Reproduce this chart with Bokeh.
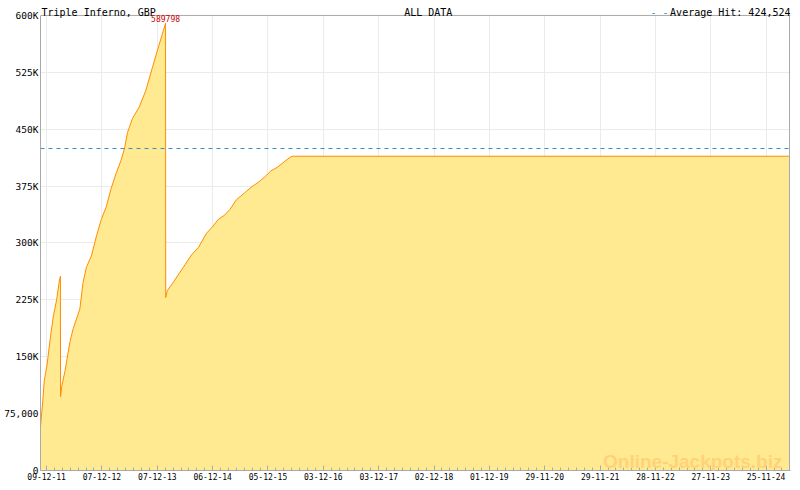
import pandas as pd
from bokeh.plotting import figure
from bokeh.models import (ColumnDataSource, Range1d, FixedTicker, DatetimeTickFormatter, Span,
                          Label, BoxAnnotation)
from bokeh.embed import file_html
from bokeh.resources import INLINE

# ---- data ----
dates = [
    "2011-10-30", "2011-11-13", "2011-11-24", "2011-12-12", "2012-01-02", "2012-01-23",
    "2012-02-14", "2012-03-02", "2012-03-09", "2012-03-10", "2012-03-18", "2012-04-08",
    "2012-05-11", "2012-06-01", "2012-07-15", "2012-08-05", "2012-08-27", "2012-09-29",
    "2012-11-01", "2012-12-03", "2013-01-05", "2013-02-06", "2013-03-11", "2013-04-12",
    "2013-05-04", "2013-05-25", "2013-06-05", "2013-06-26", "2013-08-09", "2013-09-22",
    "2013-11-04", "2013-12-06", "2014-01-08", "2014-01-30", "2014-01-31", "2014-02-10",
    "2014-03-14", "2014-04-27", "2014-06-09", "2014-07-22", "2014-09-03", "2014-10-27",
    "2014-11-29", "2015-01-12", "2015-02-24", "2015-03-29", "2015-05-11", "2015-07-04",
    "2015-08-16", "2015-09-29", "2015-11-11", "2015-12-24", "2016-02-06", "2016-03-20",
    "2016-05-02", "2016-05-20", "2025-04-28",
]
values = [
    58000, 89000, 119000, 139000, 174000, 204000,
    226000, 250000, 256000, 97600, 111000, 131000,
    170000, 187000, 213000, 248000, 268000, 283000,
    309000, 331000, 348000, 372000, 392000, 409000,
    424000, 446000, 452000, 464000, 479000, 501000,
    531000, 553000, 575000, 589798, 228000, 237000,
    246000, 259000, 272000, 285000, 294000, 313000,
    320000, 331000, 337000, 344000, 357000, 366000,
    373500, 379500, 386500, 395000, 400000, 407000,
    413500, 414400, 414400,
]
tick_dates = ["09-12-11", "07-12-12", "07-12-13", "06-12-14", "05-12-15", "03-12-16",
              "03-12-17", "02-12-18", "01-12-19", "29-11-20", "29-11-21", "28-11-22",
              "27-11-23", "25-11-24"]
y_ticks = [0, 75000, 150000, 225000, 300000, 375000, 450000, 525000, 600000]
y_tick_labels = ["0", "75,000", "150K", "225K", "300K", "375K", "450K", "525K", "600K"]
average_hit = 424524
peak_value = 589798
peak_date = "2014-01-30"
title_left = "Triple Inferno, GBP"
title_center = "ALL DATA"
legend_text = "Average Hit: 424,524"
watermark = "Online-Jackpots.biz"

# ---- layout constants (styling) ----
W, H = 792, 482
BORDER_L, BORDER_R, BORDER_T, BORDER_B = 40, 2, 0, 11
FRAME_W = W - BORDER_L - BORDER_R
FRAME_H = H - BORDER_T - BORDER_B
PLOT_TOP_PX = 15           # pixel strip above the plotting box for the header texts
Y_MAX = y_ticks[-1]
Y_TOP = Y_MAX * FRAME_H / (FRAME_H - PLOT_TOP_PX)

MONO = "DejaVu Sans Mono"
GREY = "#aaaaaa"

# ---- build ----
x = pd.to_datetime(dates)
src = ColumnDataSource(dict(x=x, y=values))

def ms(ts):
    return pd.Timestamp(ts).value / 1e6

x0, x1 = ms(x[0]), ms(x[-1])
x_end = x1 + (x1 - x0) / FRAME_W          # one pixel of room for the right border
major = [ms(t) for t in pd.to_datetime(tick_dates, format="%d-%m-%y")]
minor = []
for a, b in zip(major[:-1], major[1:]):
    st = (b - a) / 7
    minor += [a + i * st for i in range(1, 7)]
st = (major[1] - major[0]) / 7
minor = [major[0] - st] + minor + [major[-1] + i * st for i in range(1, 7)]

p = figure(width=W, height=H, x_axis_type="datetime", output_backend="svg",
           toolbar_location=None, x_range=Range1d(x0, x_end), y_range=Range1d(0, Y_TOP),
           min_border_left=BORDER_L, min_border_right=BORDER_R,
           min_border_top=BORDER_T, min_border_bottom=BORDER_B,
           background_fill_color="white", border_fill_color="white",
           outline_line_color=None)

p.varea(x="x", y1=0, y2="y", source=src, fill_color="#ffea91")
p.line("x", "y", source=src, line_color="#ff8c00", line_width=1)

p.xgrid.grid_line_color = "#ebebeb"
p.ygrid.grid_line_color = "#ebebeb"

xa = p.xaxis[0]
xa.ticker = FixedTicker(ticks=major, minor_ticks=minor)
fmt = "%d-%m-%y"
xa.formatter = DatetimeTickFormatter(microseconds=fmt, milliseconds=fmt, seconds=fmt, minsec=fmt,
                                     minutes=fmt, hourmin=fmt, hours=fmt, days=fmt,
                                     months=fmt, years=fmt)
xa.major_tick_in = 5
xa.major_tick_out = 0
xa.minor_tick_in = 3
xa.minor_tick_out = 0
xa.major_tick_line_color = GREY
xa.minor_tick_line_color = GREY
xa.axis_line_color = GREY
xa.major_label_text_font = MONO
xa.major_label_text_font_size = "8px"
xa.major_label_standoff = 2
xa.major_label_text_color = "black"

ya = p.yaxis[0]
ya.ticker = FixedTicker(ticks=y_ticks)
ya.bounds = (0, Y_MAX)
ya.major_label_overrides = {t: l for t, l in zip(y_ticks, y_tick_labels)}
ya.major_tick_in = 0
ya.major_tick_out = 0
ya.minor_tick_in = 0
ya.minor_tick_out = 0
ya.axis_line_color = GREY
ya.major_label_text_font = MONO
ya.major_label_text_font_size = "9.5px"
ya.major_label_standoff = 2
ya.major_label_text_color = "black"

# right border (covered above the box by the header strip)
p.add_layout(Span(location=x1, dimension="height", line_color=GREY, line_width=1))
# blank header strip above the plotting box
p.add_layout(BoxAnnotation(bottom=Y_MAX, fill_color="white", fill_alpha=1.0,
                           line_color=None))
p.add_layout(Span(location=Y_MAX, dimension="width", line_color=GREY, line_width=1))

p.add_layout(Span(location=average_hit, dimension="width", line_color="#3b8ec2",
                  line_dash="4 4", line_width=1))

p.add_layout(Label(x=x0, y=Y_MAX, text=title_left, x_offset=1, y_offset=3,
                   text_font=MONO, text_font_size="10px", text_color="black",
                   text_baseline="alphabetic", text_align="left"))
p.add_layout(Label(x=x0 + (x_end - x0) * 0.517, y=Y_MAX, text=title_center, y_offset=3,
                   text_font=MONO, text_font_size="10px", text_color="black",
                   text_baseline="alphabetic", text_align="center"))
p.add_layout(Label(x=x_end, y=Y_MAX, text=legend_text, y_offset=3,
                   text_font=MONO, text_font_size="10px", text_color="black",
                   text_baseline="alphabetic", text_align="right"))
p.add_layout(Label(x=x_end, y=Y_MAX, text="- -", x_offset=-122, y_offset=3,
                   text_font=MONO, text_font_size="10px", text_color="#3b8ec2",
                   text_baseline="alphabetic", text_align="right"))
p.add_layout(Label(x=ms(peak_date), y=peak_value, text=f"{peak_value}", y_offset=1,
                   text_font=MONO, text_font_size="8px", text_color="#cc0000",
                   text_baseline="bottom", text_align="center"))
p.add_layout(Label(x=x_end, y=0, text=watermark, x_offset=-8, y_offset=9,
                   text_font="Liberation Sans", text_font_style="bold",
                   text_font_size="19px", text_color="#ffd27a",
                   text_baseline="alphabetic", text_align="right"))

open("out.html", "w").write(file_html(p, INLINE))
